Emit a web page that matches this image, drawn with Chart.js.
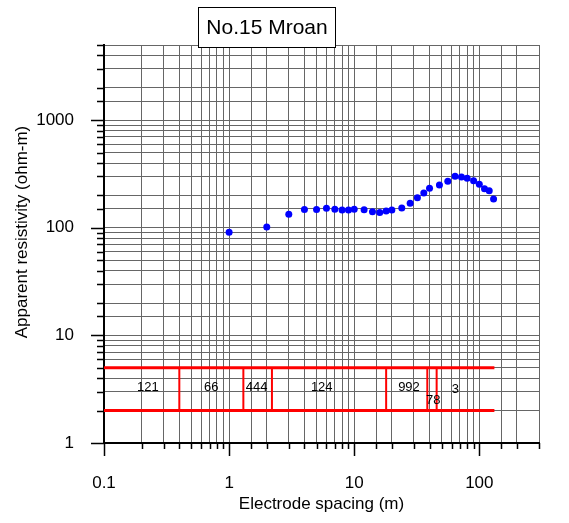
<!DOCTYPE html>
<html>
<head>
<meta charset="utf-8">
<script src="https://cdn.jsdelivr.net/npm/chart.js@4"></script>
<style>
	html, body { margin: 0; padding: 0; background: #fff; }
	#wrap { width: 569px; height: 523px; }
</style>
</head>
<body>
<div id="wrap"><canvas id="c" width="569" height="523"></canvas></div>
<script>
// sounding data
const spacing = [1, 2, 3, 4, 5, 6, 7, 8, 9, 10, 12, 14, 16, 18, 20, 24, 28, 32, 36, 40, 48, 56, 64, 72, 80, 90, 100, 110, 120, 130];
const resistivity = [91, 102, 134, 148, 148, 152, 149, 146, 146, 149, 147, 141, 139, 143, 146, 153, 169, 190, 211, 233, 250, 271, 301, 297, 289, 274, 254, 231, 221, 185];

// layered model
const layerBounds = [0.4, 1.3, 2.2, 18, 38.4, 45.6];
const layerValues = ['121', '66', '444', '124', '992', '78', '3'];
const layerLabelX = [0.224, 0.72, 1.66, 5.5, 27.4, 42.8, 64.5];
const layerLabelY = [3.3, 3.3, 3.3, 3.3, 3.3, 2.48, 3.14];
const modelStart = 0.1;
const modelEnd = 132;
const modelTop = 5;
const modelBottom = 2;

const xMin = 0.1, xMax = 300;
const yMin = 1, yMax = 5000;

const chartTitle = 'No.15 Mroan';
const xTitle = 'Electrode spacing (m)';
const yTitle = 'Apparent resistivity (ohm-m)';

const FONT = 'Arial, "Liberation Sans", sans-serif';
const RED = '#ff0000';

const isPow10 = function (v) {
	const l = Math.log10(v);
	return Math.abs(l - Math.round(l)) < 1e-6;
};

const datasets = [];
datasets.push({
	data: [{x: modelStart, y: modelTop}, {x: modelEnd, y: modelTop}],
	borderColor: RED, borderWidth: 3, pointRadius: 0, showLine: true
});
datasets.push({
	data: [{x: modelStart, y: modelBottom}, {x: modelEnd, y: modelBottom}],
	borderColor: RED, borderWidth: 3, pointRadius: 0, showLine: true
});
layerBounds.forEach(function (b) {
	datasets.push({
		data: [{x: b, y: modelBottom}, {x: b, y: modelTop}],
		borderColor: RED, borderWidth: 2, pointRadius: 0, showLine: true
	});
});
datasets.push({
	data: spacing.map((x, i) => ({x: x, y: resistivity[i]})),
	backgroundColor: '#0000ff', borderWidth: 0, pointRadius: 3.5, showLine: false
});

// tick marks, layer labels, y title and the boxed title
const extras = {
	id: 'extras',
	afterDraw: function (chart) {
		const ctx = chart.ctx;
		const xs = chart.scales.x, ys = chart.scales.y;
		const area = chart.chartArea;
		ctx.save();
		ctx.strokeStyle = '#000';
		ctx.lineWidth = 1.5;
		ctx.beginPath();
		xs.ticks.forEach(function (t) {
			const px = Math.round(xs.getPixelForValue(t.value)) + 0.5;
			const len = isPow10(t.value) ? 13 : 6;
			ctx.moveTo(px, area.bottom);
			ctx.lineTo(px, area.bottom + len);
		});
		ys.ticks.forEach(function (t) {
			const py = Math.round(ys.getPixelForValue(t.value)) + 0.5;
			const len = isPow10(t.value) ? 13 : 7;
			ctx.moveTo(area.left, py);
			ctx.lineTo(area.left - len, py);
		});
		ctx.stroke();

		ctx.fillStyle = '#000';
		ctx.font = '13px ' + FONT;
		ctx.textAlign = 'center';
		ctx.textBaseline = 'middle';
		layerValues.forEach(function (v, i) {
			ctx.fillText(v, xs.getPixelForValue(layerLabelX[i]), ys.getPixelForValue(layerLabelY[i]));
		});

		ctx.save();
		ctx.translate(22, 232);
		ctx.rotate(-Math.PI / 2);
		ctx.font = '17px ' + FONT;
		ctx.fillText(yTitle, 0, 0);
		ctx.restore();

		ctx.fillStyle = '#fff';
		ctx.fillRect(198.5, 7.5, 137, 40);
		ctx.strokeStyle = '#000';
		ctx.lineWidth = 1;
		ctx.strokeRect(198.5, 7.5, 137, 40);
		ctx.fillStyle = '#000';
		ctx.font = '21px ' + FONT;
		ctx.fillText(chartTitle, 267, 28);
		ctx.restore();
	}
};

new Chart(document.getElementById('c'), {
	type: 'scatter',
	data: {datasets: datasets},
	options: {
		responsive: false,
		animation: false,
		layout: {padding: {top: 45, right: 27, left: 0, bottom: 0}},
		plugins: {legend: {display: false}, tooltip: {enabled: false}},
		scales: {
			x: {
				type: 'logarithmic',
				min: xMin,
				max: xMax,
				afterFit: function (s) { s.height = 80; },
				border: {color: '#000', width: 2},
				grid: {color: '#666', lineWidth: 1, drawTicks: false},
				ticks: {
					autoSkip: false, maxRotation: 0, padding: 30,
					color: '#000', font: {family: FONT, size: 17},
					callback: function (v) { return isPow10(v) ? String(+v.toPrecision(3)) : ''; }
				},
				title: {display: true, text: xTitle, color: '#000', font: {family: FONT, size: 17}, padding: {top: 0, bottom: 8}}
			},
			y: {
				type: 'logarithmic',
				min: yMin,
				max: yMax,
				afterFit: function (s) { s.width = 104; },
				border: {color: '#000', width: 2},
				grid: {color: '#666', lineWidth: 1, drawTicks: false},
				ticks: {
					autoSkip: false, padding: 30,
					color: '#000', font: {family: FONT, size: 17},
					callback: function (v) { return isPow10(v) ? String(+v.toPrecision(3)) : ''; }
				},
				title: {display: false}
			}
		}
	},
	plugins: [extras]
});
</script>
</body>
</html>
